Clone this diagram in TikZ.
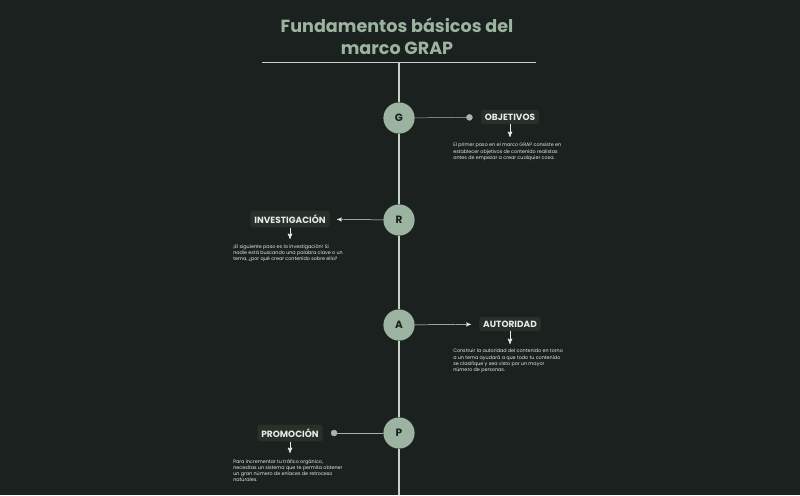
\documentclass[tikz,border=0pt]{standalone}
\usepackage{fontspec}
\setmainfont{Poppins}
\usetikzlibrary{arrows,positioning}
\definecolor{fondo}{HTML}{1B211E}
\definecolor{salvia}{HTML}{9DB3A1}
\definecolor{caja}{HTML}{273029}
\definecolor{eje}{HTML}{C9D1CB}
\definecolor{conector}{HTML}{A9B3AC}
\definecolor{claro}{HTML}{E6EBE7}

\begin{document}
\begin{tikzpicture}[x=0.025cm,y=-0.025cm,>=stealth',
    letra/.style={circle,fill=salvia,minimum size=0.78cm,inner sep=0pt,
      text=fondo,font=\bfseries\fontsize{7.5}{7.5}\selectfont},
    etiqueta/.style={fill=caja,rounded corners=2pt,text=claro,inner sep=2.8pt,
      font=\bfseries\fontsize{6.4}{6.4}\selectfont},
    texto/.style={text=claro,anchor=north west,align=left,inner sep=0pt,
      font=\fontsize{3.45}{4.3}\selectfont},
    enlace/.style={draw=conector,line width=0.35pt},
    bajada/.style={->,draw=claro,line width=0.5pt}]
  \fill[fondo] (0,0) rectangle (800,495);
  \useasboundingbox (0,0) rectangle (800,495);
  % titulo y regla
  \node[text=salvia,align=center,font=\bfseries\fontsize{12.5}{15.6}\selectfont]
    (titulo) at (397,36) {Fundamentos básicos del\\marco GRAP};
  \coordinate (regla-izq) at (262,62);
  \coordinate (regla-der) at (536,62);
  \coordinate (eje-sup) at (399,62);
  \coordinate (eje-inf) at (399,495);
  % letras del eje
  \node[letra] (g) at (399,118) {G};
  \node[letra] (r) at (399,220) {R};
  \node[letra] (a) at (399,325) {A};
  \node[letra] (p) at (399,433) {P};
  \draw[eje,line width=0.7pt] (regla-izq) -- (regla-der);
  \draw[eje,line width=0.9pt] (eje-sup) -- (g) -- (r) -- (a) -- (p) -- (eje-inf);
  % etiquetas
  \node[etiqueta] (objetivos) at (510,117) {OBJETIVOS};
  \node[etiqueta] (investigacion) at (290,219) {INVESTIGACIÓN};
  \node[etiqueta] (autoridad) at (510,324) {AUTORIDAD};
  \node[etiqueta] (promocion) at (290,433) {PROMOCIÓN};
  \coordinate (objetivos-fin) at (510,137);
  \coordinate (investigacion-fin) at (290,239);
  \coordinate (autoridad-fin) at (510,344);
  \coordinate (promocion-fin) at (290,453);
  % textos
  \node[texto] (texto-g) at (453,143) {El primer paso en el marco GRAP consiste en\\
    establecer objetivos de contenido realistas\\antes de empezar a crear cualquier cosa.};
  \node[texto] (texto-r) at (233,244) {¡El siguiente paso es la investigación! Si\\
    nadie está buscando una palabra clave o un\\tema, ¿por qué crear contenido sobre ello?};
  \node[texto] (texto-a) at (453,349) {Construir la autoridad del contenido en torno\\
    a un tema ayudará a que todo tu contenido\\se clasifique y sea visto por un mayor\\
    número de personas.};
  \node[texto] (texto-p) at (233,459) {Para incrementar tu tráfico orgánico,\\
    necesitas un sistema que te permita obtener\\un gran número de enlaces de retroceso\\
    naturales.};
  % conectores
  \draw[enlace,-*,shorten >=2mm] (g) -- (objetivos);
  \draw[enlace,draw=claro,->,shorten >=1.8mm] (r) -- (investigacion);
  \draw[enlace,draw=claro,->,shorten >=2mm] (a) -- (autoridad);
  \draw[enlace,-*,shorten >=2mm] (p) -- (promocion);
  \draw[bajada] (objetivos) -- (objetivos-fin);
  \draw[bajada] (investigacion) -- (investigacion-fin);
  \draw[bajada] (autoridad) -- (autoridad-fin);
  \draw[bajada] (promocion) -- (promocion-fin);
\end{tikzpicture}
\end{document}
